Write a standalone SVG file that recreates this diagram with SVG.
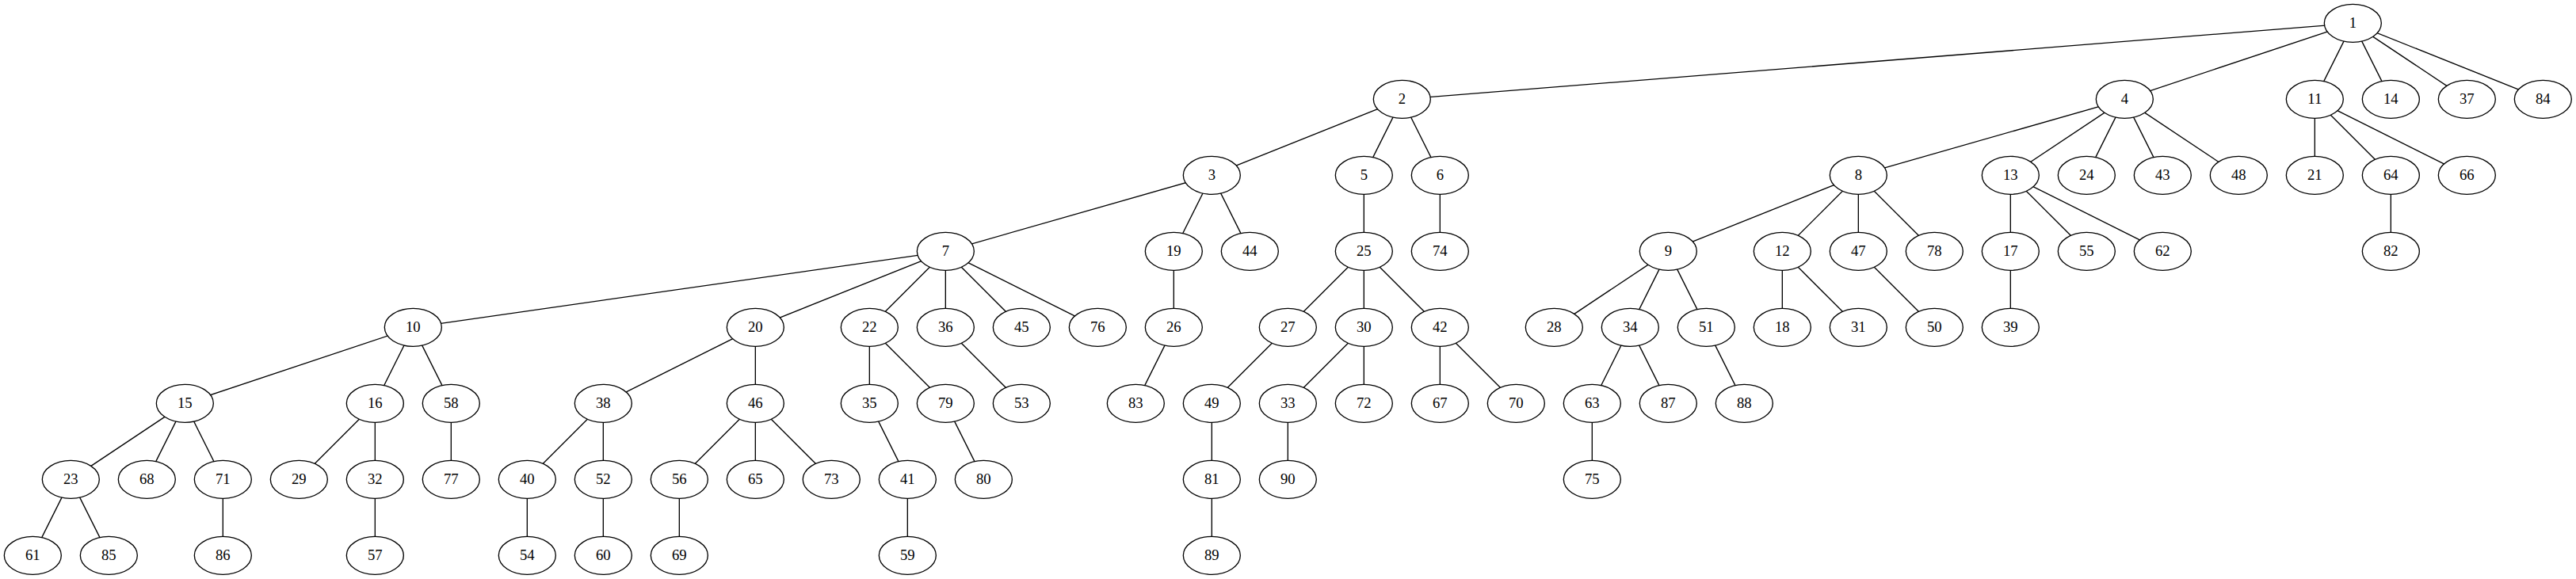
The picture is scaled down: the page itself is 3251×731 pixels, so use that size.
<svg xmlns="http://www.w3.org/2000/svg" width="3251" height="731" viewBox="0 0 3251 731">
<style>
.e line{stroke:#000;stroke-width:1.33;fill:none}
.n ellipse{fill:#fff;stroke:#000;stroke-width:1.33}
.n text{font-family:"Liberation Serif","Times New Roman",serif;font-size:18.67px;text-anchor:middle;fill:#000}
</style>
<rect width="3251" height="731" fill="#fff"/>
<g id="edges" class="e">
<line x1="2969.33" y1="29.33" x2="1769.33" y2="125.33"/>
<line x1="2969.33" y1="29.33" x2="2681.33" y2="125.33"/>
<line x1="2969.33" y1="29.33" x2="2921.33" y2="125.33"/>
<line x1="2969.33" y1="29.33" x2="3017.33" y2="125.33"/>
<line x1="2969.33" y1="29.33" x2="3113.33" y2="125.33"/>
<line x1="2969.33" y1="29.33" x2="3209.33" y2="125.33"/>
<line x1="1769.33" y1="125.33" x2="1529.33" y2="221.33"/>
<line x1="1769.33" y1="125.33" x2="1721.33" y2="221.33"/>
<line x1="1769.33" y1="125.33" x2="1817.33" y2="221.33"/>
<line x1="2681.33" y1="125.33" x2="2345.33" y2="221.33"/>
<line x1="2681.33" y1="125.33" x2="2537.33" y2="221.33"/>
<line x1="2681.33" y1="125.33" x2="2633.33" y2="221.33"/>
<line x1="2681.33" y1="125.33" x2="2729.33" y2="221.33"/>
<line x1="2681.33" y1="125.33" x2="2825.33" y2="221.33"/>
<line x1="2921.33" y1="125.33" x2="2921.33" y2="221.33"/>
<line x1="2921.33" y1="125.33" x2="3017.33" y2="221.33"/>
<line x1="2921.33" y1="125.33" x2="3113.33" y2="221.33"/>
<line x1="1529.33" y1="221.33" x2="1193.33" y2="317.33"/>
<line x1="1529.33" y1="221.33" x2="1481.33" y2="317.33"/>
<line x1="1529.33" y1="221.33" x2="1577.33" y2="317.33"/>
<line x1="1721.33" y1="221.33" x2="1721.33" y2="317.33"/>
<line x1="1817.33" y1="221.33" x2="1817.33" y2="317.33"/>
<line x1="2345.33" y1="221.33" x2="2105.33" y2="317.33"/>
<line x1="2345.33" y1="221.33" x2="2249.33" y2="317.33"/>
<line x1="2345.33" y1="221.33" x2="2345.33" y2="317.33"/>
<line x1="2345.33" y1="221.33" x2="2441.33" y2="317.33"/>
<line x1="2537.33" y1="221.33" x2="2537.33" y2="317.33"/>
<line x1="2537.33" y1="221.33" x2="2633.33" y2="317.33"/>
<line x1="2537.33" y1="221.33" x2="2729.33" y2="317.33"/>
<line x1="3017.33" y1="221.33" x2="3017.33" y2="317.33"/>
<line x1="1193.33" y1="317.33" x2="521.33" y2="413.33"/>
<line x1="1193.33" y1="317.33" x2="953.33" y2="413.33"/>
<line x1="1193.33" y1="317.33" x2="1097.33" y2="413.33"/>
<line x1="1193.33" y1="317.33" x2="1193.33" y2="413.33"/>
<line x1="1193.33" y1="317.33" x2="1289.33" y2="413.33"/>
<line x1="1193.33" y1="317.33" x2="1385.33" y2="413.33"/>
<line x1="1481.33" y1="317.33" x2="1481.33" y2="413.33"/>
<line x1="1721.33" y1="317.33" x2="1625.33" y2="413.33"/>
<line x1="1721.33" y1="317.33" x2="1721.33" y2="413.33"/>
<line x1="1721.33" y1="317.33" x2="1817.33" y2="413.33"/>
<line x1="2105.33" y1="317.33" x2="1961.33" y2="413.33"/>
<line x1="2105.33" y1="317.33" x2="2057.33" y2="413.33"/>
<line x1="2105.33" y1="317.33" x2="2153.33" y2="413.33"/>
<line x1="2249.33" y1="317.33" x2="2249.33" y2="413.33"/>
<line x1="2249.33" y1="317.33" x2="2345.33" y2="413.33"/>
<line x1="2345.33" y1="317.33" x2="2441.33" y2="413.33"/>
<line x1="2537.33" y1="317.33" x2="2537.33" y2="413.33"/>
<line x1="521.33" y1="413.33" x2="233.33" y2="509.33"/>
<line x1="521.33" y1="413.33" x2="473.33" y2="509.33"/>
<line x1="521.33" y1="413.33" x2="569.33" y2="509.33"/>
<line x1="953.33" y1="413.33" x2="761.33" y2="509.33"/>
<line x1="953.33" y1="413.33" x2="953.33" y2="509.33"/>
<line x1="1097.33" y1="413.33" x2="1097.33" y2="509.33"/>
<line x1="1097.33" y1="413.33" x2="1193.33" y2="509.33"/>
<line x1="1193.33" y1="413.33" x2="1289.33" y2="509.33"/>
<line x1="1481.33" y1="413.33" x2="1433.33" y2="509.33"/>
<line x1="1625.33" y1="413.33" x2="1529.33" y2="509.33"/>
<line x1="1721.33" y1="413.33" x2="1625.33" y2="509.33"/>
<line x1="1721.33" y1="413.33" x2="1721.33" y2="509.33"/>
<line x1="1817.33" y1="413.33" x2="1817.33" y2="509.33"/>
<line x1="1817.33" y1="413.33" x2="1913.33" y2="509.33"/>
<line x1="2057.33" y1="413.33" x2="2009.33" y2="509.33"/>
<line x1="2057.33" y1="413.33" x2="2105.33" y2="509.33"/>
<line x1="2153.33" y1="413.33" x2="2201.33" y2="509.33"/>
<line x1="233.33" y1="509.33" x2="89.33" y2="605.33"/>
<line x1="233.33" y1="509.33" x2="185.33" y2="605.33"/>
<line x1="233.33" y1="509.33" x2="281.33" y2="605.33"/>
<line x1="473.33" y1="509.33" x2="377.33" y2="605.33"/>
<line x1="473.33" y1="509.33" x2="473.33" y2="605.33"/>
<line x1="569.33" y1="509.33" x2="569.33" y2="605.33"/>
<line x1="761.33" y1="509.33" x2="665.33" y2="605.33"/>
<line x1="761.33" y1="509.33" x2="761.33" y2="605.33"/>
<line x1="953.33" y1="509.33" x2="857.33" y2="605.33"/>
<line x1="953.33" y1="509.33" x2="953.33" y2="605.33"/>
<line x1="953.33" y1="509.33" x2="1049.33" y2="605.33"/>
<line x1="1097.33" y1="509.33" x2="1145.33" y2="605.33"/>
<line x1="1193.33" y1="509.33" x2="1241.33" y2="605.33"/>
<line x1="1529.33" y1="509.33" x2="1529.33" y2="605.33"/>
<line x1="1625.33" y1="509.33" x2="1625.33" y2="605.33"/>
<line x1="2009.33" y1="509.33" x2="2009.33" y2="605.33"/>
<line x1="89.33" y1="605.33" x2="41.33" y2="701.33"/>
<line x1="89.33" y1="605.33" x2="137.33" y2="701.33"/>
<line x1="281.33" y1="605.33" x2="281.33" y2="701.33"/>
<line x1="473.33" y1="605.33" x2="473.33" y2="701.33"/>
<line x1="665.33" y1="605.33" x2="665.33" y2="701.33"/>
<line x1="761.33" y1="605.33" x2="761.33" y2="701.33"/>
<line x1="857.33" y1="605.33" x2="857.33" y2="701.33"/>
<line x1="1145.33" y1="605.33" x2="1145.33" y2="701.33"/>
<line x1="1529.33" y1="605.33" x2="1529.33" y2="701.33"/>
</g>
<g id="n1" class="n"><ellipse cx="2969.33" cy="29.33" rx="36" ry="24"/><text x="2969.33" y="35.33">1</text></g>
<g id="n2" class="n"><ellipse cx="1769.33" cy="125.33" rx="36" ry="24"/><text x="1769.33" y="131.33">2</text></g>
<g id="n4" class="n"><ellipse cx="2681.33" cy="125.33" rx="36" ry="24"/><text x="2681.33" y="131.33">4</text></g>
<g id="n11" class="n"><ellipse cx="2921.33" cy="125.33" rx="36" ry="24"/><text x="2921.33" y="131.33">11</text></g>
<g id="n14" class="n"><ellipse cx="3017.33" cy="125.33" rx="36" ry="24"/><text x="3017.33" y="131.33">14</text></g>
<g id="n37" class="n"><ellipse cx="3113.33" cy="125.33" rx="36" ry="24"/><text x="3113.33" y="131.33">37</text></g>
<g id="n84" class="n"><ellipse cx="3209.33" cy="125.33" rx="36" ry="24"/><text x="3209.33" y="131.33">84</text></g>
<g id="n3" class="n"><ellipse cx="1529.33" cy="221.33" rx="36" ry="24"/><text x="1529.33" y="227.33">3</text></g>
<g id="n5" class="n"><ellipse cx="1721.33" cy="221.33" rx="36" ry="24"/><text x="1721.33" y="227.33">5</text></g>
<g id="n6" class="n"><ellipse cx="1817.33" cy="221.33" rx="36" ry="24"/><text x="1817.33" y="227.33">6</text></g>
<g id="n8" class="n"><ellipse cx="2345.33" cy="221.33" rx="36" ry="24"/><text x="2345.33" y="227.33">8</text></g>
<g id="n13" class="n"><ellipse cx="2537.33" cy="221.33" rx="36" ry="24"/><text x="2537.33" y="227.33">13</text></g>
<g id="n24" class="n"><ellipse cx="2633.33" cy="221.33" rx="36" ry="24"/><text x="2633.33" y="227.33">24</text></g>
<g id="n43" class="n"><ellipse cx="2729.33" cy="221.33" rx="36" ry="24"/><text x="2729.33" y="227.33">43</text></g>
<g id="n48" class="n"><ellipse cx="2825.33" cy="221.33" rx="36" ry="24"/><text x="2825.33" y="227.33">48</text></g>
<g id="n21" class="n"><ellipse cx="2921.33" cy="221.33" rx="36" ry="24"/><text x="2921.33" y="227.33">21</text></g>
<g id="n64" class="n"><ellipse cx="3017.33" cy="221.33" rx="36" ry="24"/><text x="3017.33" y="227.33">64</text></g>
<g id="n66" class="n"><ellipse cx="3113.33" cy="221.33" rx="36" ry="24"/><text x="3113.33" y="227.33">66</text></g>
<g id="n7" class="n"><ellipse cx="1193.33" cy="317.33" rx="36" ry="24"/><text x="1193.33" y="323.33">7</text></g>
<g id="n19" class="n"><ellipse cx="1481.33" cy="317.33" rx="36" ry="24"/><text x="1481.33" y="323.33">19</text></g>
<g id="n44" class="n"><ellipse cx="1577.33" cy="317.33" rx="36" ry="24"/><text x="1577.33" y="323.33">44</text></g>
<g id="n25" class="n"><ellipse cx="1721.33" cy="317.33" rx="36" ry="24"/><text x="1721.33" y="323.33">25</text></g>
<g id="n74" class="n"><ellipse cx="1817.33" cy="317.33" rx="36" ry="24"/><text x="1817.33" y="323.33">74</text></g>
<g id="n9" class="n"><ellipse cx="2105.33" cy="317.33" rx="36" ry="24"/><text x="2105.33" y="323.33">9</text></g>
<g id="n12" class="n"><ellipse cx="2249.33" cy="317.33" rx="36" ry="24"/><text x="2249.33" y="323.33">12</text></g>
<g id="n47" class="n"><ellipse cx="2345.33" cy="317.33" rx="36" ry="24"/><text x="2345.33" y="323.33">47</text></g>
<g id="n78" class="n"><ellipse cx="2441.33" cy="317.33" rx="36" ry="24"/><text x="2441.33" y="323.33">78</text></g>
<g id="n17" class="n"><ellipse cx="2537.33" cy="317.33" rx="36" ry="24"/><text x="2537.33" y="323.33">17</text></g>
<g id="n55" class="n"><ellipse cx="2633.33" cy="317.33" rx="36" ry="24"/><text x="2633.33" y="323.33">55</text></g>
<g id="n62" class="n"><ellipse cx="2729.33" cy="317.33" rx="36" ry="24"/><text x="2729.33" y="323.33">62</text></g>
<g id="n82" class="n"><ellipse cx="3017.33" cy="317.33" rx="36" ry="24"/><text x="3017.33" y="323.33">82</text></g>
<g id="n10" class="n"><ellipse cx="521.33" cy="413.33" rx="36" ry="24"/><text x="521.33" y="419.33">10</text></g>
<g id="n20" class="n"><ellipse cx="953.33" cy="413.33" rx="36" ry="24"/><text x="953.33" y="419.33">20</text></g>
<g id="n22" class="n"><ellipse cx="1097.33" cy="413.33" rx="36" ry="24"/><text x="1097.33" y="419.33">22</text></g>
<g id="n36" class="n"><ellipse cx="1193.33" cy="413.33" rx="36" ry="24"/><text x="1193.33" y="419.33">36</text></g>
<g id="n45" class="n"><ellipse cx="1289.33" cy="413.33" rx="36" ry="24"/><text x="1289.33" y="419.33">45</text></g>
<g id="n76" class="n"><ellipse cx="1385.33" cy="413.33" rx="36" ry="24"/><text x="1385.33" y="419.33">76</text></g>
<g id="n26" class="n"><ellipse cx="1481.33" cy="413.33" rx="36" ry="24"/><text x="1481.33" y="419.33">26</text></g>
<g id="n27" class="n"><ellipse cx="1625.33" cy="413.33" rx="36" ry="24"/><text x="1625.33" y="419.33">27</text></g>
<g id="n30" class="n"><ellipse cx="1721.33" cy="413.33" rx="36" ry="24"/><text x="1721.33" y="419.33">30</text></g>
<g id="n42" class="n"><ellipse cx="1817.33" cy="413.33" rx="36" ry="24"/><text x="1817.33" y="419.33">42</text></g>
<g id="n28" class="n"><ellipse cx="1961.33" cy="413.33" rx="36" ry="24"/><text x="1961.33" y="419.33">28</text></g>
<g id="n34" class="n"><ellipse cx="2057.33" cy="413.33" rx="36" ry="24"/><text x="2057.33" y="419.33">34</text></g>
<g id="n51" class="n"><ellipse cx="2153.33" cy="413.33" rx="36" ry="24"/><text x="2153.33" y="419.33">51</text></g>
<g id="n18" class="n"><ellipse cx="2249.33" cy="413.33" rx="36" ry="24"/><text x="2249.33" y="419.33">18</text></g>
<g id="n31" class="n"><ellipse cx="2345.33" cy="413.33" rx="36" ry="24"/><text x="2345.33" y="419.33">31</text></g>
<g id="n50" class="n"><ellipse cx="2441.33" cy="413.33" rx="36" ry="24"/><text x="2441.33" y="419.33">50</text></g>
<g id="n39" class="n"><ellipse cx="2537.33" cy="413.33" rx="36" ry="24"/><text x="2537.33" y="419.33">39</text></g>
<g id="n15" class="n"><ellipse cx="233.33" cy="509.33" rx="36" ry="24"/><text x="233.33" y="515.33">15</text></g>
<g id="n16" class="n"><ellipse cx="473.33" cy="509.33" rx="36" ry="24"/><text x="473.33" y="515.33">16</text></g>
<g id="n58" class="n"><ellipse cx="569.33" cy="509.33" rx="36" ry="24"/><text x="569.33" y="515.33">58</text></g>
<g id="n38" class="n"><ellipse cx="761.33" cy="509.33" rx="36" ry="24"/><text x="761.33" y="515.33">38</text></g>
<g id="n46" class="n"><ellipse cx="953.33" cy="509.33" rx="36" ry="24"/><text x="953.33" y="515.33">46</text></g>
<g id="n35" class="n"><ellipse cx="1097.33" cy="509.33" rx="36" ry="24"/><text x="1097.33" y="515.33">35</text></g>
<g id="n79" class="n"><ellipse cx="1193.33" cy="509.33" rx="36" ry="24"/><text x="1193.33" y="515.33">79</text></g>
<g id="n53" class="n"><ellipse cx="1289.33" cy="509.33" rx="36" ry="24"/><text x="1289.33" y="515.33">53</text></g>
<g id="n83" class="n"><ellipse cx="1433.33" cy="509.33" rx="36" ry="24"/><text x="1433.33" y="515.33">83</text></g>
<g id="n49" class="n"><ellipse cx="1529.33" cy="509.33" rx="36" ry="24"/><text x="1529.33" y="515.33">49</text></g>
<g id="n33" class="n"><ellipse cx="1625.33" cy="509.33" rx="36" ry="24"/><text x="1625.33" y="515.33">33</text></g>
<g id="n72" class="n"><ellipse cx="1721.33" cy="509.33" rx="36" ry="24"/><text x="1721.33" y="515.33">72</text></g>
<g id="n67" class="n"><ellipse cx="1817.33" cy="509.33" rx="36" ry="24"/><text x="1817.33" y="515.33">67</text></g>
<g id="n70" class="n"><ellipse cx="1913.33" cy="509.33" rx="36" ry="24"/><text x="1913.33" y="515.33">70</text></g>
<g id="n63" class="n"><ellipse cx="2009.33" cy="509.33" rx="36" ry="24"/><text x="2009.33" y="515.33">63</text></g>
<g id="n87" class="n"><ellipse cx="2105.33" cy="509.33" rx="36" ry="24"/><text x="2105.33" y="515.33">87</text></g>
<g id="n88" class="n"><ellipse cx="2201.33" cy="509.33" rx="36" ry="24"/><text x="2201.33" y="515.33">88</text></g>
<g id="n23" class="n"><ellipse cx="89.33" cy="605.33" rx="36" ry="24"/><text x="89.33" y="611.33">23</text></g>
<g id="n68" class="n"><ellipse cx="185.33" cy="605.33" rx="36" ry="24"/><text x="185.33" y="611.33">68</text></g>
<g id="n71" class="n"><ellipse cx="281.33" cy="605.33" rx="36" ry="24"/><text x="281.33" y="611.33">71</text></g>
<g id="n29" class="n"><ellipse cx="377.33" cy="605.33" rx="36" ry="24"/><text x="377.33" y="611.33">29</text></g>
<g id="n32" class="n"><ellipse cx="473.33" cy="605.33" rx="36" ry="24"/><text x="473.33" y="611.33">32</text></g>
<g id="n77" class="n"><ellipse cx="569.33" cy="605.33" rx="36" ry="24"/><text x="569.33" y="611.33">77</text></g>
<g id="n40" class="n"><ellipse cx="665.33" cy="605.33" rx="36" ry="24"/><text x="665.33" y="611.33">40</text></g>
<g id="n52" class="n"><ellipse cx="761.33" cy="605.33" rx="36" ry="24"/><text x="761.33" y="611.33">52</text></g>
<g id="n56" class="n"><ellipse cx="857.33" cy="605.33" rx="36" ry="24"/><text x="857.33" y="611.33">56</text></g>
<g id="n65" class="n"><ellipse cx="953.33" cy="605.33" rx="36" ry="24"/><text x="953.33" y="611.33">65</text></g>
<g id="n73" class="n"><ellipse cx="1049.33" cy="605.33" rx="36" ry="24"/><text x="1049.33" y="611.33">73</text></g>
<g id="n41" class="n"><ellipse cx="1145.33" cy="605.33" rx="36" ry="24"/><text x="1145.33" y="611.33">41</text></g>
<g id="n80" class="n"><ellipse cx="1241.33" cy="605.33" rx="36" ry="24"/><text x="1241.33" y="611.33">80</text></g>
<g id="n81" class="n"><ellipse cx="1529.33" cy="605.33" rx="36" ry="24"/><text x="1529.33" y="611.33">81</text></g>
<g id="n90" class="n"><ellipse cx="1625.33" cy="605.33" rx="36" ry="24"/><text x="1625.33" y="611.33">90</text></g>
<g id="n75" class="n"><ellipse cx="2009.33" cy="605.33" rx="36" ry="24"/><text x="2009.33" y="611.33">75</text></g>
<g id="n61" class="n"><ellipse cx="41.33" cy="701.33" rx="36" ry="24"/><text x="41.33" y="707.33">61</text></g>
<g id="n85" class="n"><ellipse cx="137.33" cy="701.33" rx="36" ry="24"/><text x="137.33" y="707.33">85</text></g>
<g id="n86" class="n"><ellipse cx="281.33" cy="701.33" rx="36" ry="24"/><text x="281.33" y="707.33">86</text></g>
<g id="n57" class="n"><ellipse cx="473.33" cy="701.33" rx="36" ry="24"/><text x="473.33" y="707.33">57</text></g>
<g id="n54" class="n"><ellipse cx="665.33" cy="701.33" rx="36" ry="24"/><text x="665.33" y="707.33">54</text></g>
<g id="n60" class="n"><ellipse cx="761.33" cy="701.33" rx="36" ry="24"/><text x="761.33" y="707.33">60</text></g>
<g id="n69" class="n"><ellipse cx="857.33" cy="701.33" rx="36" ry="24"/><text x="857.33" y="707.33">69</text></g>
<g id="n59" class="n"><ellipse cx="1145.33" cy="701.33" rx="36" ry="24"/><text x="1145.33" y="707.33">59</text></g>
<g id="n89" class="n"><ellipse cx="1529.33" cy="701.33" rx="36" ry="24"/><text x="1529.33" y="707.33">89</text></g>
</svg>
